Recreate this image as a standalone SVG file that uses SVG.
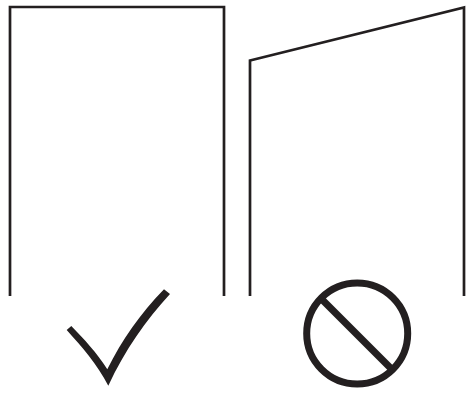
<svg xmlns="http://www.w3.org/2000/svg" width="469" height="394" viewBox="0 0 469 394">
<style>
.o{fill:none;stroke:#231f20;stroke-width:2.7;stroke-linejoin:miter}
.s{fill:none;stroke:#231f20;stroke-width:7}
</style>
<rect width="469" height="394" fill="#fff"/>
<g id="sheet-straight"><path class="o" d="M10 296V7H224V296"/></g>
<g id="sheet-skewed"><path class="o" d="M250 296V60.500L464 7.500V296"/></g>
<g id="check"><path fill="#231f20" d="M66.700 330L71.300 326C84 339 97 353 107.300 369.300C122 340 140 314 164 289.300L170 294C146 320 125 350 108.300 385.700C97 364 82 347 66.700 330Z"/></g>
<g id="prohibited"><circle class="s" cx="357.200" cy="333.500" r="50.500"/><path class="s" d="M322 299.500L392 369.500"/></g>
</svg>
